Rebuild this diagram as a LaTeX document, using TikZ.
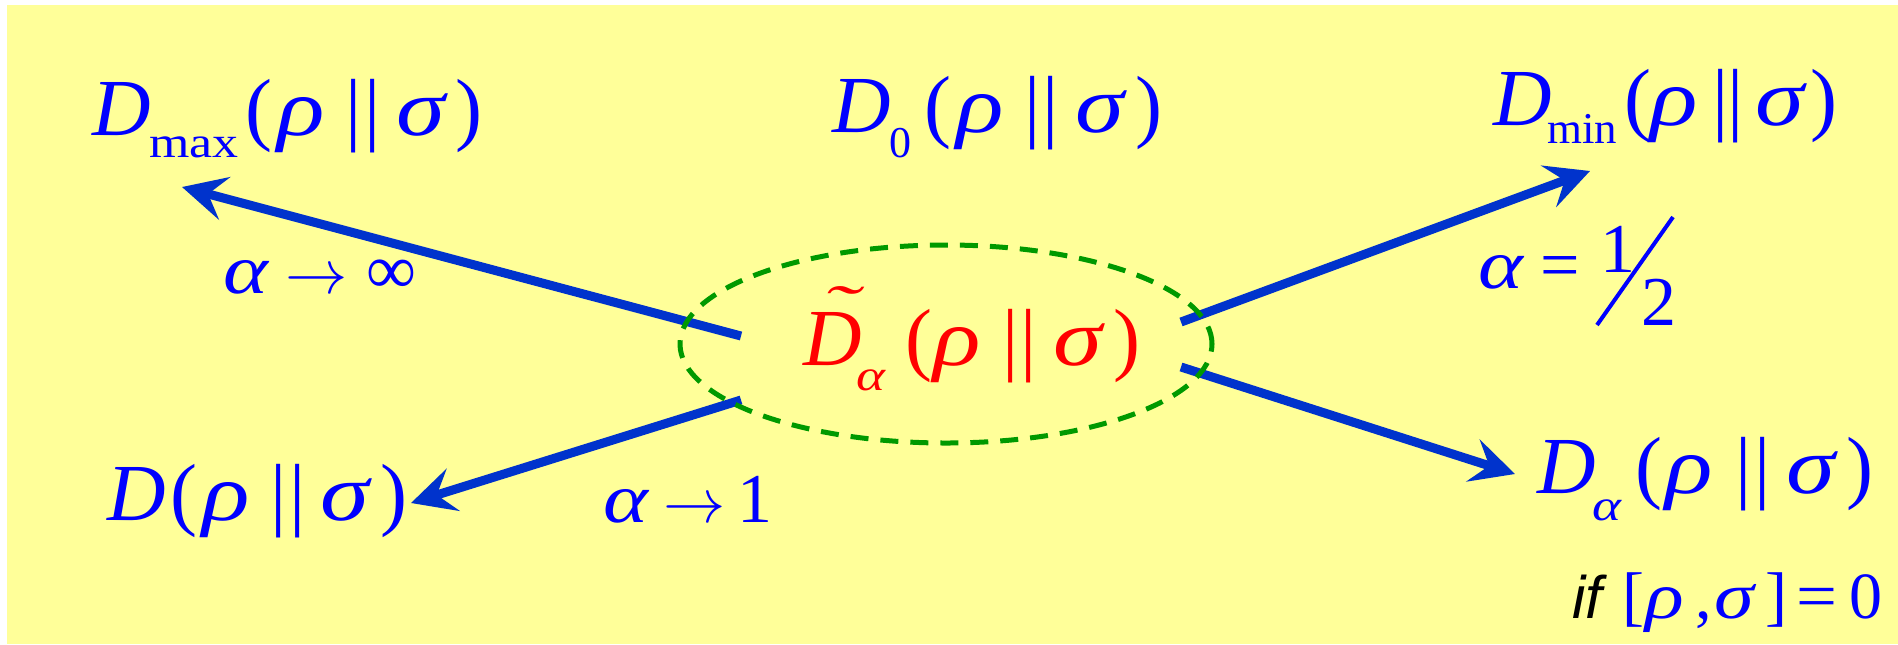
\documentclass[tikz,border=0pt]{standalone}
\usepackage{fontspec}
\setmainfont{Liberation Serif}
\newfontfamily\sansf{Liberation Sans}
\usetikzlibrary{arrows.meta,shapes.geometric}
\definecolor{bg}{RGB}{255,255,153}
\definecolor{arrowblue}{RGB}{0,51,204}
\definecolor{txtblue}{RGB}{0,0,255}
\definecolor{txtred}{RGB}{255,0,0}
\definecolor{dashgreen}{RGB}{0,153,0}
\newdimen\px \px=0.5pt
\newcommand{\mainsz}{\fontsize{40.5pt}{46pt}\selectfont}
\newcommand{\subsz}{\fontsize{22pt}{25pt}\selectfont}
\newcommand{\labsz}{\fontsize{35pt}{40pt}\selectfont}
\newcommand{\at}[2]{\rlap{\kern#1\px #2}}
\newcommand{\gr}[1]{\scalebox{1.22}[1]{\textit{#1}}}
\newcommand{\sbx}[3]{\raisebox{-#1pt}{\subsz\scalebox{#2}[1]{#3}}}
\newcommand{\arr}{{\fontsize{24.88pt}{25pt}\selectfont\scalebox{1.25}{$\rightarrow$}}}
\begin{document}
\begin{tikzpicture}[x=0.5pt,y=-0.5pt,
  expr/.style={anchor=base west,inner sep=0pt,font=\mainsz,text=txtblue},
  lab/.style={anchor=base west,inner sep=0pt,font=\labsz,text=txtblue},
  limarrow/.style={draw=arrowblue,line width=4.5pt,
    -{Stealth[length=22pt,width=22pt,inset=8.5pt]}},
  zone/.style={ellipse,draw=dashgreen,line width=2.5pt,
    dash pattern=on 9pt off 6pt,minimum width=266pt,minimum height=99pt,inner sep=0pt}]
\useasboundingbox (0,0) rectangle (1898,644);
\fill[bg] (7,5) rectangle (1898,644);

% expressions
\node[expr] (dmax) at (92,135) {\at{0}{\textit{D}}\at{57}{\sbx{11}{1.18}{max}}\at{153}{(}\at{185}{\gr{ρ}}\at{253}{|}\at{272}{|}\at{304}{\gr{σ}}\at{363}{)}\kern386\px};
\node[expr] (dzero) at (832,132) {\at{0}{\textit{D}}\at{57}{\sbx{12.5}{1}{0}}\at{92}{(}\at{124}{\gr{ρ}}\at{192}{|}\at{210}{|}\at{243}{\gr{σ}}\at{303}{)}\kern321\px};
\node[expr] (dmin) at (1493,125) {\at{0}{\textit{D}}\at{54}{\sbx{9}{1.02}{min}}\at{131}{(}\at{157}{\gr{ρ}}\at{219}{|}\at{234}{|}\at{262}{\gr{σ}}\at{317}{)}\kern337\px};
\node[expr,text=txtred] (dsand) at (803,365) {\at{0}{\textit{D}}\at{18}{\raisebox{19pt}{\scalebox{1.35}[0.75]{\textit{˜}}}}\at{53}{\sbx{12.5}{1.25}{\textit{α}}}\at{102}{(}\at{130}{\gr{ρ}}\at{199}{|}\at{217}{|}\at{250}{\gr{σ}}\at{310}{)}\kern334\px};
\node[expr] (dkl) at (107,520) {\at{0}{\textit{D}}\at{63}{(}\at{95}{\gr{ρ}}\at{163}{|}\at{182}{|}\at{213}{\gr{σ}}\at{273}{)}\kern295\px};
\node[expr] (dpetz) at (1537,493) {\at{0}{\textit{D}}\at{55}{\sbx{13.5}{1.25}{\textit{α}}}\at{98}{(}\at{128}{\gr{ρ}}\at{198}{|}\at{217}{|}\at{249}{\gr{σ}}\at{309}{)}\kern331\px};
\node[anchor=base west,inner sep=0pt,font=\fontsize{33pt}{36pt}\selectfont,text=txtblue] (cond) at (1572,618)
  {\at{0}{{\fontsize{30pt}{34pt}\selectfont\sansf\itshape\color{black}if}}\at{50}{[}\at{73}{\gr{ρ}}\at{123}{,}\at{142}{\gr{σ}}\at{193}{]}\at{224}{\scalebox{1.1}[1]{=}}\at{277}{0}\kern316\px};

% labels
\node[lab] (linf) at (223,293) {\at{0}{\gr{α}}\at{62}{\arr}\at{143}{∞}\kern190\px};
\node[lab] (lone) at (603,522) {\at{0}{\gr{α}}\at{60}{\arr}\at{134}{1}\kern164\px};
\node[lab] (lhalf) at (1478,288) {\at{0}{\gr{α}}\at{62}{=}\kern99\px};
\node[lab] (hnum) at (1600,272) {1};
\node[lab] (hden) at (1641,325) {2};
\coordinate (slashlo) at (1597,325);
\coordinate (slashhi) at (1673,217);
\draw[txtblue,line width=2pt] (slashlo) -- (slashhi);

% arrows
\coordinate (t1) at (741,336);
\coordinate (h1) at (182,187);
\coordinate (t2) at (741,400);
\coordinate (h2) at (411,503);
\coordinate (t3) at (1181,322);
\coordinate (h3) at (1590,171);
\coordinate (t4) at (1181,367);
\coordinate (h4) at (1515,474);
\draw[limarrow] (t1) -- (h1);
\draw[limarrow] (t2) -- (h2);
\draw[limarrow] (t3) -- (h3);
\draw[limarrow] (t4) -- (h4);

% dashed ellipse
\node[zone] (ell) at (946,344) {};
\end{tikzpicture}
\end{document}
